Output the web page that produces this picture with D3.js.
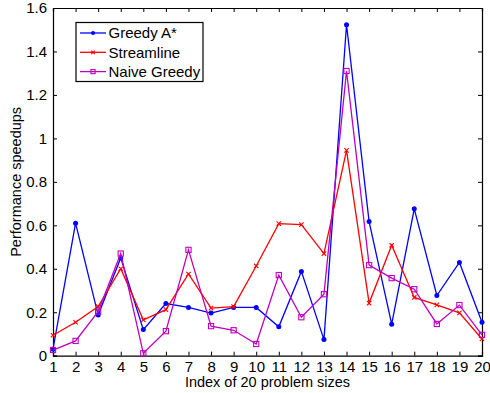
<!DOCTYPE html>
<html lang="en">
<head>
    <meta charset="UTF-8">
    <title>speedups</title>
    <script src="https://d3js.org/d3.v7.min.js"></script>
    <style>
        body { margin: 0; background: #fff; }
        text { font-family: "Liberation Sans", Arial, sans-serif; }
    </style>
</head>
<body>
    <svg width="490" height="393"></svg>
    <script>
        const sizes = d3.range(1, 21);
        const greedyAStar = [0.03, 0.61, 0.187, 0.45, 0.12, 0.24, 0.222, 0.196, 0.222, 0.222,
                             0.133, 0.388, 0.074, 1.523, 0.617, 0.145, 0.676, 0.277, 0.429, 0.154];
        const streamline = [0.094, 0.154, 0.226, 0.40, 0.165, 0.212, 0.376, 0.219, 0.226, 0.413,
                            0.608, 0.603, 0.47, 0.945, 0.242, 0.508, 0.268, 0.234, 0.197, 0.077];
        const naiveGreedy = [0.026, 0.068, 0.203, 0.47, 0.011, 0.113, 0.487, 0.136, 0.117, 0.054,
                             0.371, 0.177, 0.283, 1.31, 0.417, 0.357, 0.306, 0.146, 0.233, 0.096];
        const yTicks = [0, 0.2, 0.4, 0.6, 0.8, 1, 1.2, 1.4, 1.6];

        const series = [
            {name: 'Greedy A*', values: greedyAStar, color: '#0000ff', marker: 'dot'},
            {name: 'Streamline', values: streamline, color: '#ff0000', marker: 'x'},
            {name: 'Naive Greedy', values: naiveGreedy, color: '#bf00bf', marker: 'square'}
        ];

        const svg = d3.select('svg');
        const plotLeft = 53, plotRight = 482, plotTop = 8, plotBottom = 355.7;

        const x = d3.scaleLinear().domain([1, 20]).range([plotLeft, plotRight]);
        const y = d3.scaleLinear().domain([0, 1.6]).range([plotBottom, plotTop]);

        // axes with inward ticks, matlab style
        const xAxis = d3.axisBottom(x).tickValues(sizes).tickSize(-4).tickPadding(7).tickFormat(d3.format('d'));
        const yAxis = d3.axisLeft(y).tickValues(yTicks).tickSize(-4).tickPadding(6).tickFormat(d => d);

        const gx = svg.append('g').attr('transform', `translate(0,${plotBottom})`).call(xAxis);
        const gy = svg.append('g').attr('transform', `translate(${plotLeft},0)`).call(yAxis);
        svg.append('g').attr('transform', `translate(0,${plotTop})`)
            .call(d3.axisTop(x).tickValues(sizes).tickSize(-4).tickFormat(''));
        svg.append('g').attr('transform', `translate(${plotRight},0)`)
            .call(d3.axisRight(y).tickValues(yTicks).tickSize(-4).tickFormat(''));

        svg.selectAll('.domain').attr('stroke', '#000').attr('stroke-width', 1.2);
        svg.selectAll('.tick line').attr('stroke', '#000');
        svg.selectAll('.tick text').attr('font-size', 15).attr('fill', '#000')
            .style('font-family', '"Liberation Sans", Arial, sans-serif');
        gx.selectAll('.tick text').attr('dy', '0.6em');

        const line = d3.line()
            .x((d, i) => x(sizes[i]))
            .y(d => y(d));

        function drawMarker(g, type, color, cx, cy, k) {
            if (type === 'dot') {
                g.append('circle').attr('cx', cx).attr('cy', cy).attr('r', 2.5 * k).attr('fill', color);
            } else if (type === 'x') {
                const h = 2.2 * k;
                g.append('path')
                    .attr('d', `M${cx - h},${cy - h}L${cx + h},${cy + h}M${cx - h},${cy + h}L${cx + h},${cy - h}`)
                    .attr('stroke', color).attr('stroke-width', 1.1);
            } else {
                const h = 2.6 * k;
                g.append('rect').attr('x', cx - h).attr('y', cy - h).attr('width', 2 * h).attr('height', 2 * h)
                    .attr('fill', 'none').attr('stroke', color).attr('stroke-width', 1.1);
            }
        }

        series.forEach(s => {
            const g = svg.append('g');
            g.append('path')
                .attr('d', line(s.values))
                .attr('fill', 'none')
                .attr('stroke', s.color)
                .attr('stroke-width', 1.3);
            s.values.forEach((v, i) => drawMarker(g, s.marker, s.color, x(sizes[i]), y(v), 1));
        });

        // legend
        const lg = svg.append('g');
        lg.append('rect').attr('x', 76).attr('y', 22.5).attr('width', 127).attr('height', 59)
            .attr('fill', '#fff').attr('stroke', '#000').attr('stroke-width', 1.2);
        series.forEach((s, i) => {
            const ly = 33 + i * 19.3;
            lg.append('line').attr('x1', 80).attr('x2', 106).attr('y1', ly).attr('y2', ly)
                .attr('stroke', s.color).attr('stroke-width', 1.3);
            drawMarker(lg, s.marker, s.color, 93, ly, 0.8);
            lg.append('text').attr('x', 108.5).attr('y', ly).attr('dy', '0.35em')
                .attr('font-size', 15).text(s.name);
        });

        svg.append('text')
            .attr('x', (plotLeft + plotRight) / 2).attr('y', 387)
            .attr('text-anchor', 'middle').attr('font-size', 14.5)
            .text('Index of 20 problem sizes');
        svg.append('text')
            .attr('transform', `translate(21,${(plotTop + plotBottom) / 2}) rotate(-90)`)
            .attr('text-anchor', 'middle').attr('font-size', 14.5)
            .text('Performance speedups');
    </script>
</body>
</html>
